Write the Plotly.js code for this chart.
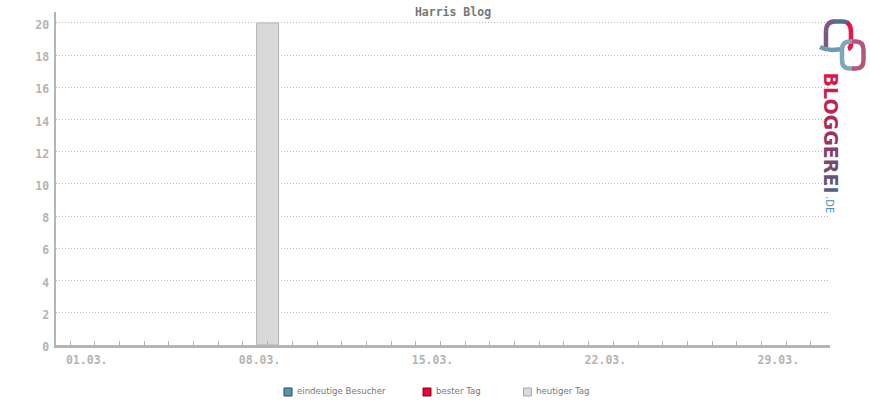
<!DOCTYPE html>
<html>
<head>
<meta charset="utf-8">
<script src="https://cdn.plot.ly/plotly-3.0.1.min.js"></script>
<style>html,body{margin:0;padding:0;background:#fff;}#chart{width:870px;height:400px;}</style>
</head>
<body>
<div id="chart"></div>
<script>
// ---- data ----
var days = [1,2,3,4,5,6,7,8,9,10,11,12,13,14,15,16,17,18,19,20,21,22,23,24,25,26,27,28,29,30,31];
var uniqueVisitors = [0,0,0,0,0,0,0,0,0,0,0,0,0,0,0,0,0,0,0,0,0,0,0,0,0,0,0,0,0,0,0];
var bestDay = [0,0,0,0,0,0,0,0,0,0,0,0,0,0,0,0,0,0,0,0,0,0,0,0,0,0,0,0,0,0,0];
var todayDay = [8];
var todayValue = [20];
var tickDays = [1,8,15,22,29];
var tickLabels = ['01.03.','08.03.','15.03.','22.03.','29.03.'];
var yTicks = [0,2,4,6,8,10,12,14,16,18,20];
var seriesNames = ['eindeutige Besucher','bester Tag','heutiger Tag'];
var chartTitle = 'Harris Blog';

// ---- layout helpers (pixel -> paper) ----
var L = 56, R = 40, T = 12, B = 55, W = 870, H = 400;
var pw = W - L - R, ph = H - T - B;
function px(x){ return ((x - L) / pw).toFixed(4); }
function py(y){ return ((H - B - y) / ph).toFixed(4); }
function path(cmds){
  return cmds.map(function(c){
    var pts = [];
    for (var i = 1; i < c.length; i += 2) pts.push(px(c[i]) + ',' + py(c[i+1]));
    return c[0] + pts.join(' ');
  }).join(' ');
}

var traces = [
  {type:'bar', x: days, y: uniqueVisitors, name: seriesNames[0], width: 0.89,
   marker:{color:'#5b93ad', line:{color:'#1f4a60', width:0}}, showlegend:false, hoverinfo:'skip'},
  {type:'bar', x: days, y: bestDay, name: seriesNames[1], width: 0.89,
   marker:{color:'#e8003c', line:{color:'#8a0024', width:0}}, showlegend:false, hoverinfo:'skip'},
  {type:'bar', x: todayDay, y: todayValue, name: seriesNames[2], width: 0.89,
   marker:{color:'#d9d9d9', line:{color:'#b4b4b4', width:1}}, showlegend:false, hoverinfo:'skip'}
];

var tickFont = {family:'DejaVu Sans Mono', size:11.5, color:'#b4b4b4', weight:'bold'};

var shapes = [];
var annotations = [];

// legend (custom)
var legendItems = [
  {x:284, fill:'#5b93ad', line:'#1f4a60', textX:295},
  {x:423, fill:'#e8003c', line:'#8a0024', textX:434},
  {x:523.5, fill:'#d9d9d9', line:'#a8a8a8', textX:534}
];
legendItems.forEach(function(it, i){
  shapes.push({type:'rect', xref:'paper', yref:'paper', x0:px(it.x), x1:px(it.x+8), y0:py(396), y1:py(388),
    fillcolor:it.fill, line:{color:it.line, width:1}});
  annotations.push({xref:'paper', yref:'paper', x:px(it.textX), y:py(391.5), xanchor:'left', yanchor:'middle',
    text:seriesNames[i], showarrow:false, font:{family:'DejaVu Sans', size:8.6, color:'#777777'}});
});

// logo: BLOGGEREI.DE vertical
var letters = 'BLOGGEREI'.split('');
var cols = ['#d61a4b','#cc1d4d','#be2250','#ad2a56','#9a345d','#874066','#744c70','#635679','#565e82'];
var txt = letters.map(function(ch, i){ return '<span style="color:' + cols[i] + '">' + ch + '</span>'; }).join('');
annotations.push({xref:'paper', yref:'paper', x:px(831.5), y:py(133), xanchor:'center', yanchor:'middle',
  text: txt, textangle:90, showarrow:false, font:{family:'DejaVu Sans', size:19, weight:'bold', color:'#c0204f'}});
annotations.push({xref:'paper', yref:'paper', x:px(830), y:py(204), xanchor:'center', yanchor:'middle',
  text: '.DE', textangle:90, showarrow:false, font:{family:'DejaVu Sans', size:10, color:'#4a8fb5'}});

// logo link shapes
function stroke(cmds, color){
  shapes.push({type:'path', xref:'paper', yref:'paper', path:path(cmds), line:{color:color, width:4.5}, layer:'above'});
}
stroke([['M',826,47],['L',826,32],['Q',826,22,834,21.5]], '#7a5a7e');
stroke([['M',833,21.5],['L',842,21.5],['Q',846,21.5,848,23]], '#4f6f8a');
stroke([['M',847,22.5],['Q',851,25,851,32],['L',851,44],['Q',851,48,848,49]], '#e3184b');
stroke([['M',820,47],['Q',826,50,832,50],['L',844,49]], '#6f9ab0');
stroke([['M',853,41.5],['L',850,41.5],['Q',842,41.5,842,50],['L',842,60],['Q',842,68.5,850,68.5],['L',853,68.5]], '#7ea8b9');
stroke([['M',852,41.5],['L',856,41.5],['Q',863.5,41.5,863.5,50],['L',863.5,60],['Q',863.5,68.5,856,68.5],['L',852,68.5]], '#b0577a');

var layout = {
  width: W, height: H,
  margin: {l:L, r:R, t:T, b:B, pad:0},
  paper_bgcolor:'#ffffff', plot_bgcolor:'#ffffff',
  barmode:'overlay',
  showlegend:false,
  title: {text: chartTitle, x: 453/870, xref:'container', xanchor:'center', y: 1 - 12/400, yref:'container', yanchor:'middle',
    font:{family:'DejaVu Sans Mono', size:11.5, color:'#777777', weight:'bold'}},
  xaxis: {
    range:[-0.567, 30.77], tickmode:'array', tickvals: tickDays, ticktext: tickLabels,
    ticks:'inside', ticklen:4, tickwidth:1, tickcolor:'#b4b4b4',
    ticklabelshift:-8, ticklabelstandoff:3,
    minor:{tickmode:'linear', tick0:0, dtick:1, ticks:'inside', ticklen:4, tickwidth:1, tickcolor:'#b4b4b4', showgrid:false},
    showgrid:false, zeroline:false, showline:true, linecolor:'#b4b4b4', linewidth:2.5,
    tickfont: tickFont, fixedrange:true
  },
  yaxis: {
    range:[0, 20.68], tickmode:'array', tickvals: yTicks,
    ticks:'', showgrid:true, gridcolor:'#bdbdbd', griddash:'1px,2px', gridwidth:1,
    zeroline:false, showline:true, linecolor:'#b4b4b4', linewidth:2.5,
    tickfont: tickFont, ticklabelstandoff:2, ticklabelshift:2, fixedrange:true
  },
  shapes: shapes,
  annotations: annotations
};

Plotly.newPlot('chart', traces, layout, {displayModeBar:false, staticPlot:true});
</script>
</body>
</html>
